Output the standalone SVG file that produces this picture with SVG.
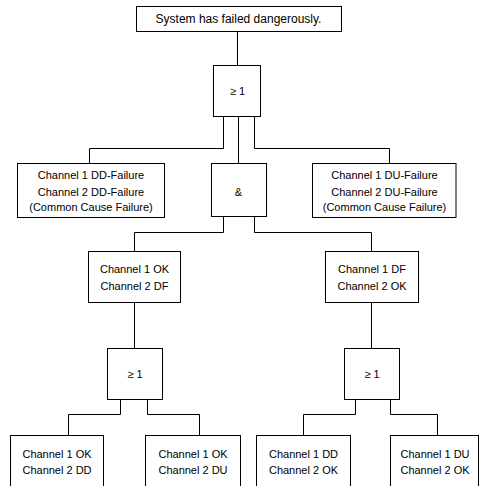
<svg xmlns="http://www.w3.org/2000/svg" width="479" height="486" viewBox="0 0 479 486">
  <style>
    .box { fill: #fff; stroke: #000; stroke-width: 1; }
    .wire { fill: none; stroke: #000; stroke-width: 1; }
    text { font-family: "Liberation Sans", Arial, sans-serif; font-size: 11px; fill: #000; text-anchor: middle; }
    .title { font-size: 12px; }
  </style>
  <rect width="479" height="486" fill="#fff"/>

  <!-- connectors -->
  <g id="connectors">
    <path class="wire" d="M237.5,31.5 V65.5"/>
    <path class="wire" d="M223.5,116.5 V148.5 H89.5 V163.5"/>
    <path class="wire" d="M238.5,116.5 V163.5"/>
    <path class="wire" d="M254.5,116.5 V148.5 H389.5 V163.5"/>
    <path class="wire" d="M223.5,216.5 V232.5 H134.5 V251.5"/>
    <path class="wire" d="M254.5,216.5 V232.5 H371.5 V251.5"/>
    <path class="wire" d="M134.5,302.5 V348.5"/>
    <path class="wire" d="M371.5,302.5 V348.5"/>
    <path class="wire" d="M120.5,399.5 V414.5 H68.5 V435.5"/>
    <path class="wire" d="M147.5,399.5 V414.5 H199.5 V435.5"/>
    <path class="wire" d="M355.5,399.5 V414.5 H303.5 V435.5"/>
    <path class="wire" d="M390.5,399.5 V414.5 H437.5 V435.5"/>
  </g>

  <!-- top event -->
  <g id="top">
    <rect class="box" x="136.5" y="6.5" width="205" height="25"/>
    <text class="title" x="238.5" y="23">System has failed dangerously.</text>
  </g>

  <!-- gates -->
  <g id="or-top">
    <rect class="box" x="213.5" y="65.5" width="47" height="51"/>
    <text x="237.5" y="95">≥ 1</text>
  </g>
  <g id="and">
    <rect class="box" x="211.5" y="163.5" width="55" height="53"/>
    <text x="238.5" y="195.5">&amp;</text>
  </g>
  <g id="or-left">
    <rect class="box" x="107.5" y="348.5" width="55" height="51"/>
    <text x="135" y="378">≥ 1</text>
  </g>
  <g id="or-right">
    <rect class="box" x="344.5" y="348.5" width="55" height="51"/>
    <text x="372" y="378">≥ 1</text>
  </g>

  <!-- events -->
  <g id="ccf-dd">
    <rect class="box" x="17.5" y="163.5" width="147" height="54"/>
    <text x="91" y="179">Channel 1 DD-Failure</text>
    <text x="91" y="195.5">Channel 2 DD-Failure</text>
    <text x="91" y="211">(Common Cause Failure)</text>
  </g>
  <g id="ccf-du">
    <rect class="box" x="312.5" y="163.5" width="143.5" height="54"/>
    <text x="384.5" y="179">Channel 1 DU-Failure</text>
    <text x="384.5" y="195.5">Channel 2 DU-Failure</text>
    <text x="384.5" y="211">(Common Cause Failure)</text>
  </g>
  <g id="ok-df">
    <rect class="box" x="88.5" y="251.5" width="92" height="51"/>
    <text x="134.5" y="273">Channel 1 OK</text>
    <text x="134.5" y="290">Channel 2 DF</text>
  </g>
  <g id="df-ok">
    <rect class="box" x="325.5" y="251.5" width="93" height="51"/>
    <text x="372" y="273">Channel 1 DF</text>
    <text x="372" y="290">Channel 2 OK</text>
  </g>
  <g id="ok-dd">
    <rect class="box" x="10.5" y="435.5" width="93" height="60"/>
    <text x="57" y="458">Channel 1 OK</text>
    <text x="57" y="473.5">Channel 2 DD</text>
  </g>
  <g id="ok-du">
    <rect class="box" x="145.5" y="435.5" width="95" height="60"/>
    <text x="193" y="458">Channel 1 OK</text>
    <text x="193" y="473.5">Channel 2 DU</text>
  </g>
  <g id="dd-ok">
    <rect class="box" x="256.5" y="435.5" width="94" height="60"/>
    <text x="303.5" y="458">Channel 1 DD</text>
    <text x="303.5" y="473.5">Channel 2 OK</text>
  </g>
  <g id="du-ok">
    <rect class="box" x="390.5" y="435.5" width="88" height="60"/>
    <text x="435" y="458">Channel 1 DU</text>
    <text x="435" y="473.5">Channel 2 OK</text>
  </g>
</svg>
